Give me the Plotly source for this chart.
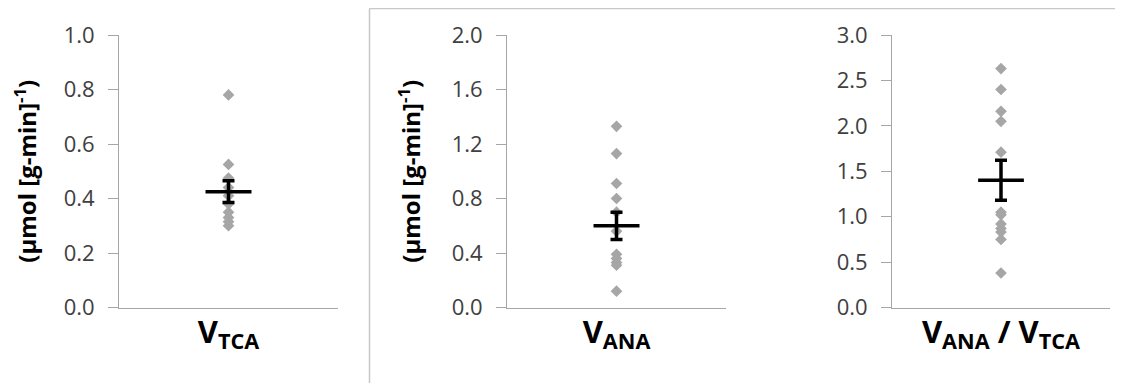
import plotly.graph_objects as go

# The page body has an 8px margin; layout is built in page pixels shifted by it.
OFF = 8
W, H = 1123 - 2 * OFF, 383 - OFF

# ---- data ----
panel_labels = ["V<sub style=\"font-size:62%\">TCA</sub>",
                "V<sub style=\"font-size:62%\">ANA</sub>",
                "V<sub style=\"font-size:62%\">ANA</sub> / V<sub style=\"font-size:62%\">TCA</sub>"]
v_tca = [0.78, 0.525, 0.475, 0.44, 0.41, 0.38, 0.35, 0.33, 0.315, 0.30]
v_ana = [1.33, 1.13, 0.91, 0.80, 0.70, 0.56, 0.39, 0.36, 0.33, 0.31, 0.12]
v_ratio = [2.63, 2.40, 2.16, 2.05, 1.71, 1.05, 1.02, 0.92, 0.87, 0.83, 0.75, 0.38]
means = [0.425, 0.60, 1.40]
sems = [0.04, 0.10, 0.22]
y_ranges = [[0, 1.0], [0, 2.0], [0, 3.0]]
y_dticks = [0.2, 0.4, 0.5]
y_titles = ["(μmol [g-min]<sup>-1</sup>)", "(μmol [g-min]<sup>-1</sup>)", ""]
series = [v_tca, v_ana, v_ratio]

# target screen pixel geometry (from reference)
plot_px = [(119, 338), (507, 726), (892, 1110)]
top_px, bot_px = 35, 307.5
MEAN_HALF = 0.21

font_fam = "Open Sans"
axis_col = "#a6a6a6"


def px_x(s):
    return (s - OFF) / W


def px_y(s):
    return 1 - (s - OFF) / H


fig = go.Figure()
for i, vals in enumerate(series):
    xa = "x" if i == 0 else f"x{i+1}"
    ya = "y" if i == 0 else f"y{i+1}"
    fig.add_trace(go.Scatter(
        x=[1] * len(vals), y=vals, mode="markers", xaxis=xa, yaxis=ya,
        marker=dict(symbol="diamond", size=9, color="#a6a6a6"),
        showlegend=False, hoverinfo="y"))
    fig.add_trace(go.Scatter(
        x=[1], y=[means[i]], mode="markers", xaxis=xa, yaxis=ya,
        marker=dict(size=1, color="rgba(0,0,0,0)"),
        error_y=dict(type="data", array=[sems[i]], color="black", thickness=3.5, width=6),
        error_x=dict(type="constant", value=MEAN_HALF, color="black", thickness=3.5, width=0),
        showlegend=False, hoverinfo="y"))

layout = dict(
    width=W, height=H, margin=dict(l=0, r=0, t=0, b=0, autoexpand=False),
    paper_bgcolor="white", plot_bgcolor="white",
    font=dict(family=font_fam, color="#404040", size=20),
)
for i in range(3):
    sx = "" if i == 0 else str(i + 1)
    x0, x1 = plot_px[i]
    layout["xaxis" + sx] = dict(
        domain=[px_x(x0), px_x(x1)], range=[0, 2], showticklabels=False, ticks="",
        showgrid=False, zeroline=False, showline=True, linecolor=axis_col, linewidth=1,
        anchor="y" + sx, fixedrange=True, automargin=False,
        title=dict(text="<b>" + panel_labels[i] + "</b>", standoff=13,
                   font=dict(size=31, color="black", family=font_fam)))
    layout["yaxis" + sx] = dict(
        domain=[px_y(bot_px), px_y(top_px)], range=y_ranges[i], dtick=y_dticks[i],
        tickformat=".1f", ticks="outside", ticklen=10, tickcolor=axis_col, tickwidth=1,
        ticklabelstandoff=9,
        showgrid=False, zeroline=False, showline=True, linecolor=axis_col, linewidth=1,
        anchor="x" + sx, fixedrange=True, automargin=False,
        tickfont=dict(size=22, color="#404040", family=font_fam),
        title=dict(text="<b>" + y_titles[i] + "</b>" if y_titles[i] else "", standoff=24,
                   font=dict(size=24, color="black", family=font_fam)))

border_col = "#c8c8c8"
shapes = [
    dict(type="line", xref="paper", yref="paper", x0=px_x(369.5), x1=px_x(369.5),
         y0=0, y1=1 - 0.5 / H, line=dict(color=border_col, width=1.5)),
    dict(type="line", xref="paper", yref="paper", x0=px_x(369.5), x1=1,
         y0=1 - 0.5 / H, y1=1 - 0.5 / H, line=dict(color=border_col, width=1.5)),
]
layout["shapes"] = shapes
fig.update_layout(**layout)
fig.write_html("out.html")
